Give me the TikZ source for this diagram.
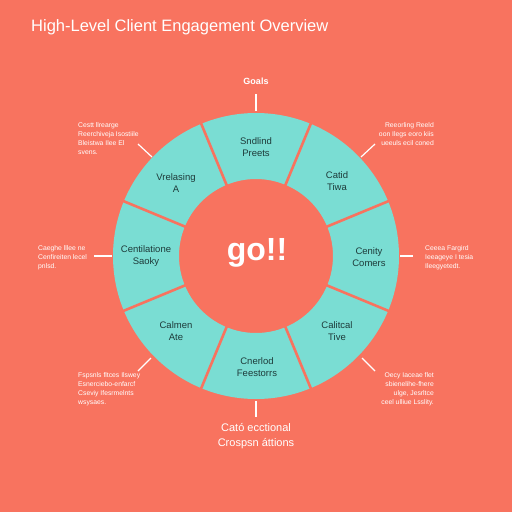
\documentclass[tikz,border=0pt]{standalone}
\usepackage{fontspec}
\setmainfont{Liberation Sans}
\usetikzlibrary{calc}
\definecolor{bgc}{HTML}{F8735F}
\definecolor{teal}{HTML}{7ADDD3}
\definecolor{segtxt}{HTML}{1E3B3A}
\tikzset{
  seglabel/.style={align=center,text=segtxt,font=\fontsize{9.5}{12}\selectfont,inner sep=0pt},
  callout/.style={text=white,font=\fontsize{6.8}{9}\selectfont,inner sep=0pt},
  lead/.style={draw=white,line width=1.2pt},
  divider/.style={draw=bgc,line width=2.6pt}
}
\begin{document}
\begin{tikzpicture}[x=1pt,y=-1pt]
\fill[bgc] (0,0) rectangle (512,512);
\useasboundingbox (0,0) rectangle (512,512);
\coordinate (c) at (256,256);
% ring
\fill[teal,even odd rule] (c) circle[radius=143] (c) circle[radius=77];
\foreach \a in {22.5,67.5,...,337.5}{
  \draw[divider] ($(c)+(\a:75)$) -- ($(c)+(\a:145)$);
}
% title
\node[anchor=west,text=white,font=\fontsize{16.5}{19}\selectfont,inner sep=0pt] (title) at (31,27) {High-Level Client Engagement Overview};
% center
\node[text=white,font=\fontsize{32}{36}\bfseries\selectfont,inner sep=0pt] (go) at (257,253) {go!!};
% segment labels
\node[seglabel] (s90) at (256,147) {Sndlind\\Preets};
\node[seglabel] (s45) at (337,181) {Catid\\Tiwa};
\node[seglabel] (s0) at (369,257) {Cenity\\Comers};
\node[seglabel] (s315) at (337,331) {Calitcal\\Tive};
\node[seglabel] (s270) at (257,367) {Cnerlod\\Feestorrs};
\node[seglabel] (s225) at (176,331) {Calmen\\Ate};
\node[seglabel] (s180) at (146,256) {Centilatione\\Saoky};
\node[seglabel] (s135) at (176,183) {Vrelasing\\A};
% top / bottom
\node[text=white,font=\fontsize{9}{11}\bfseries\selectfont,inner sep=0pt] (goals) at (256,81) {Goals};
\coordinate (t1) at (256,94);
\coordinate (t2) at (256,111);
\draw[lead] (t1) -- (t2);
\node[text=white,align=center,font=\fontsize{11}{15}\selectfont,inner sep=0pt] (bot) at (256,436) {Cató ecctional\\Crospsn áttions};
\coordinate (b1) at (256,401);
\coordinate (b2) at (256,417);
\draw[lead] (b1) -- (b2);
% callouts
\node[callout,anchor=north west,align=left] (ul) at (78,122) {Cestt llrearge\\Reerchiveja Isostiile\\Bleistwa Ilee El\\svens.};
\coordinate (ul1) at (138,144); \coordinate (ul2) at (152,157);
\draw[lead] (ul1) -- (ul2);
\node[callout,anchor=north east,align=right] (ur) at (434,122) {Reeorling Reeld\\oon Ilegs eoro kiis\\ueeuls ecil coned};
\coordinate (ur1) at (375,144); \coordinate (ur2) at (361,157);
\draw[lead] (ur1) -- (ur2);
\node[callout,anchor=north west,align=left] (l) at (38,245) {Caeghe lllee ne\\Cenfireiten lecel\\pnlsd.};
\coordinate (l1) at (94,256); \coordinate (l2) at (112,256);
\draw[lead] (l1) -- (l2);
\node[callout,anchor=north west,align=left] (r) at (425,245) {Ceeea Fargird\\Ieeageye I tesia\\Ileegyetedt.};
\coordinate (r1) at (400,256); \coordinate (r2) at (413,256);
\draw[lead] (r1) -- (r2);
\node[callout,anchor=north west,align=left] (ll) at (78,372) {Fspsnls fltces Ilswey\\Esnerciebo-enfarcf\\Cseviy Ifesrmelnts\\wsysaes.};
\coordinate (ll1) at (138,371); \coordinate (ll2) at (151,358);
\draw[lead] (ll1) -- (ll2);
\node[callout,anchor=north east,align=right] (lr) at (434,372) {Oecy Iaceae flet\\sbienelihe-fhere\\ulge, Jesrltce\\ceel ulliue Lsslity.};
\coordinate (lr1) at (362,358); \coordinate (lr2) at (375,371);
\draw[lead] (lr1) -- (lr2);
\end{tikzpicture}
\end{document}
